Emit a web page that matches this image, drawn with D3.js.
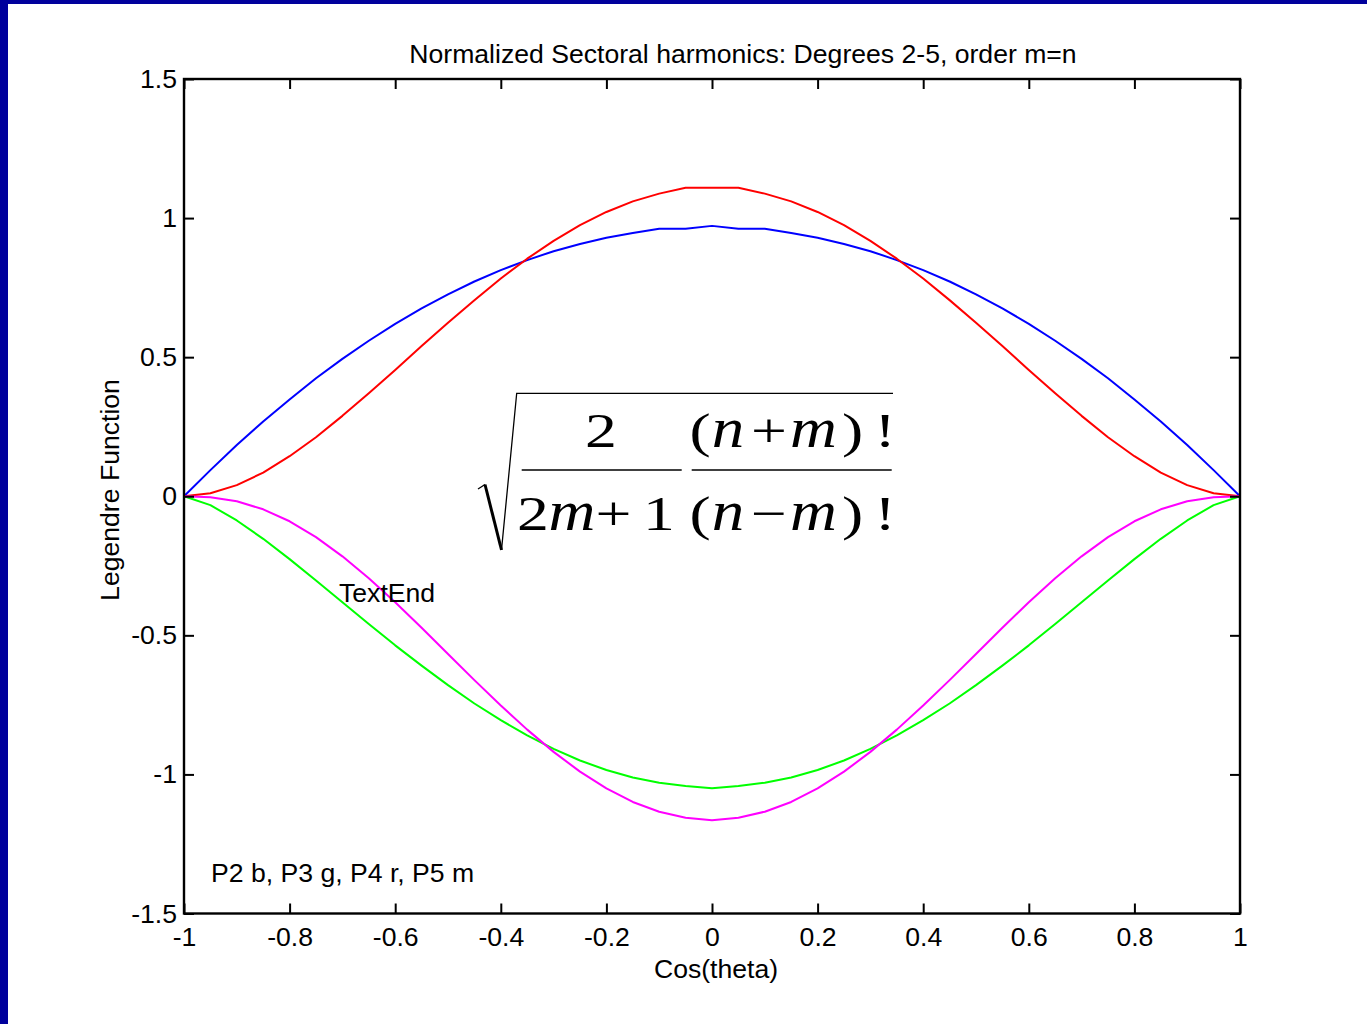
<!DOCTYPE html>
<html>
<head>
<meta charset="utf-8">
<script src="https://cdn.jsdelivr.net/npm/d3@7"></script>
<style>
  body { margin: 0; background: #fff; }
  svg { display: block; }
  text { font-family: 'Liberation Sans', Arial, sans-serif; fill: #000; }
</style>
</head>
<body>
<svg id="chart" width="1367" height="1024"></svg>
<script>
// Chart data
const xValues = [-1, -0.95, -0.9, -0.85, -0.8, -0.75, -0.7, -0.65, -0.6, -0.55, -0.5,
  -0.45, -0.4, -0.35, -0.3, -0.25, -0.2, -0.15, -0.1, -0.05, 0,
  0.05, 0.1, 0.15, 0.2, 0.25, 0.3, 0.35, 0.4, 0.45, 0.5,
  0.55, 0.6, 0.65, 0.7, 0.75, 0.8, 0.85, 0.9, 0.95, 1];

const p2 = [0, 0.094, 0.184, 0.269, 0.348, 0.424, 0.494, 0.559, 0.620, 0.675, 0.726,
  0.772, 0.813, 0.849, 0.881, 0.907, 0.929, 0.946, 0.962, 0.962, 0.972,
  0.962, 0.962, 0.946, 0.929, 0.907, 0.881, 0.849, 0.813, 0.772, 0.726,
  0.675, 0.620, 0.559, 0.494, 0.424, 0.348, 0.269, 0.184, 0.094, 0];

const p3 = [0, -0.032, -0.087, -0.153, -0.226, -0.303, -0.381, -0.459, -0.536, -0.609, -0.679,
  -0.745, -0.805, -0.860, -0.908, -0.950, -0.984, -1.011, -1.030, -1.042, -1.050,
  -1.042, -1.030, -1.011, -0.984, -0.950, -0.908, -0.860, -0.805, -0.745, -0.679,
  -0.609, -0.536, -0.459, -0.381, -0.303, -0.226, -0.153, -0.087, -0.032, 0];

const p4 = [0, 0.011, 0.040, 0.085, 0.144, 0.212, 0.289, 0.370, 0.454, 0.540, 0.624,
  0.705, 0.783, 0.854, 0.918, 0.975, 1.022, 1.060, 1.088, 1.109, 1.109,
  1.109, 1.088, 1.060, 1.022, 0.975, 0.918, 0.854, 0.783, 0.705, 0.624,
  0.540, 0.454, 0.370, 0.289, 0.212, 0.144, 0.085, 0.040, 0.011, 0];

const p5 = [0, -0.004, -0.018, -0.047, -0.090, -0.147, -0.216, -0.295, -0.381, -0.473, -0.567,
  -0.661, -0.752, -0.839, -0.919, -0.990, -1.050, -1.099, -1.134, -1.156, -1.165,
  -1.156, -1.134, -1.099, -1.050, -0.990, -0.919, -0.839, -0.752, -0.661, -0.567,
  -0.473, -0.381, -0.295, -0.216, -0.147, -0.090, -0.047, -0.018, -0.004, 0];

const seriesNames = ['P2', 'P3', 'P4', 'P5'];
const seriesColors = ['#0000ff', '#00ff00', '#ff0000', '#ff00ff'];
const seriesValues = [p2, p3, p4, p5];

const xTicks = [-1, -0.8, -0.6, -0.4, -0.2, 0, 0.2, 0.4, 0.6, 0.8, 1];
const yTicks = [-1.5, -1, -0.5, 0, 0.5, 1, 1.5];

const titleText = 'Normalized Sectoral harmonics: Degrees 2-5, order m=n';
const xLabel = 'Cos(theta)';
const yLabel = 'Legendre Function';

// Layout
const W = 1367, H = 1024;
const plot = { left: 184, top: 79, right: 1240, bottom: 913.5 };
const fontSize = 26.6;

const svg = d3.select('#chart');

// page frame (dark blue strips on the left and top)
svg.append('rect').attr('x', 0).attr('y', 0).attr('width', W).attr('height', H).attr('fill', '#fff');
svg.append('rect').attr('x', 0).attr('y', 0).attr('width', 8).attr('height', H).attr('fill', '#00009c');
svg.append('rect').attr('x', 0).attr('y', 0).attr('width', W).attr('height', 4).attr('fill', '#00009c');

const x = d3.scaleLinear().domain([-1, 1]).range([plot.left, plot.right]);
const y = d3.scaleLinear().domain([-1.5, 1.5]).range([plot.bottom, plot.top]);

// Curves
const line = d3.line()
  .x(d => x(d[0]))
  .y(d => y(d[1]));

seriesValues.forEach((vals, i) => {
  svg.append('path')
    .datum(xValues.map((xv, j) => [xv, vals[j]]))
    .attr('class', 'series ' + seriesNames[i])
    .attr('fill', 'none')
    .attr('stroke', seriesColors[i])
    .attr('stroke-width', 2)
    .attr('stroke-linejoin', 'round')
    .attr('d', line);
});

// Axes, ticks pointing inward on all four sides
const fmt = d => String(d);
const styleAxis = g => {
  g.select('.domain').remove();
  g.selectAll('line').attr('stroke', '#000').attr('stroke-width', 2);
  g.selectAll('text')
    .style('font-family', "'Liberation Sans', Arial, sans-serif")
    .style('font-size', fontSize + 'px')
    .attr('fill', '#000');
};

svg.append('g')
  .attr('transform', `translate(0,${plot.bottom})`)
  .call(d3.axisBottom(x).tickValues(xTicks).tickFormat(fmt).tickSizeInner(-10).tickSizeOuter(0).tickPadding(13.5))
  .call(styleAxis);

svg.append('g')
  .attr('transform', `translate(0,${plot.top})`)
  .call(d3.axisTop(x).tickValues(xTicks).tickFormat('').tickSizeInner(-10).tickSizeOuter(0))
  .call(styleAxis);

svg.append('g')
  .attr('transform', `translate(${plot.left},0)`)
  .call(d3.axisLeft(y).tickValues(yTicks).tickFormat(fmt).tickSizeInner(-10).tickSizeOuter(0).tickPadding(7))
  .call(styleAxis);

svg.append('g')
  .attr('transform', `translate(${plot.right},0)`)
  .call(d3.axisRight(y).tickValues(yTicks).tickFormat('').tickSizeInner(-10).tickSizeOuter(0))
  .call(styleAxis);

// Box
svg.append('rect')
  .attr('x', plot.left).attr('y', plot.top)
  .attr('width', plot.right - plot.left).attr('height', plot.bottom - plot.top)
  .attr('fill', 'none').attr('stroke', '#000').attr('stroke-width', 2.4);

// Title and axis labels
svg.append('text')
  .attr('x', 743).attr('y', 63)
  .attr('text-anchor', 'middle')
  .style('font-size', fontSize + 'px')
  .text(titleText);

svg.append('text')
  .attr('x', 716).attr('y', 978)
  .attr('text-anchor', 'middle')
  .style('font-size', fontSize + 'px')
  .text(xLabel);

svg.append('text')
  .attr('transform', 'translate(118.5,490) rotate(-90)')
  .attr('text-anchor', 'middle')
  .style('font-size', fontSize + 'px')
  .text(yLabel);

// Annotations inside the axes
svg.append('text')
  .attr('x', 339).attr('y', 602)
  .style('font-size', fontSize + 'px')
  .text('TextEnd');

svg.append('text')
  .attr('x', 211).attr('y', 882)
  .style('font-size', fontSize + 'px')
  .text('P2 b, P3 g, P4 r, P5 m');

// Normalisation formula, sqrt( 2/(2m+1) * (n+m)!/(n-m)! )
const formula = svg.append('g').attr('class', 'formula');
const numY = 446.7, denY = 530;
const glyphs = [
  { t: '2', cx: 601, y: numY },
  { t: '2', cx: 533, y: denY },
  { t: 'm', cx: 572, y: denY, it: true },
  { t: '+', cx: 613.5, y: denY },
  { t: '1', cx: 659, y: denY },
  { t: '(', cx: 700, y: numY },
  { t: 'n', cx: 728, y: numY, it: true },
  { t: '+', cx: 769, y: numY },
  { t: 'm', cx: 813.5, y: numY, it: true },
  { t: ')', cx: 852.5, y: numY },
  { t: '!', cx: 885, y: numY },
  { t: '(', cx: 700, y: denY },
  { t: 'n', cx: 728, y: denY, it: true },
  { t: '\u2212', cx: 769, y: denY },
  { t: 'm', cx: 813.5, y: denY, it: true },
  { t: ')', cx: 852.5, y: denY },
  { t: '!', cx: 885, y: denY }
];

formula.selectAll('text')
  .data(glyphs)
  .enter().append('text')
  .attr('transform', d => `translate(${d.cx},${d.y}) scale(${d.it ? 1.12 : 1.3},1)`)
  .attr('text-anchor', 'middle')
  .style('font-family', "'Liberation Serif', 'Times New Roman', serif")
  .style('font-size', d => d.it ? '58px' : '49px')
  .style('font-style', d => d.it ? 'italic' : 'normal')
  .text(d => d.t);

// fraction bars
formula.append('line').attr('x1', 521.7).attr('x2', 681.7).attr('y1', 470).attr('y2', 470)
  .attr('stroke', '#000').attr('stroke-width', 1.3);
formula.append('line').attr('x1', 691.7).attr('x2', 891.7).attr('y1', 470).attr('y2', 470)
  .attr('stroke', '#000').attr('stroke-width', 1.3);

// radical sign
formula.append('path')
  .attr('d', 'M478,489 L485,484.5')
  .attr('stroke', '#000').attr('stroke-width', 1.3).attr('fill', 'none');
formula.append('path')
  .attr('d', 'M485,484.5 L501.5,550')
  .attr('stroke', '#000').attr('stroke-width', 3).attr('fill', 'none');
formula.append('path')
  .attr('d', 'M501.5,550 L516.7,393.3 L893,393.3')
  .attr('stroke', '#000').attr('stroke-width', 1.3).attr('fill', 'none')
  .attr('stroke-linejoin', 'miter');
</script>
</body>
</html>
